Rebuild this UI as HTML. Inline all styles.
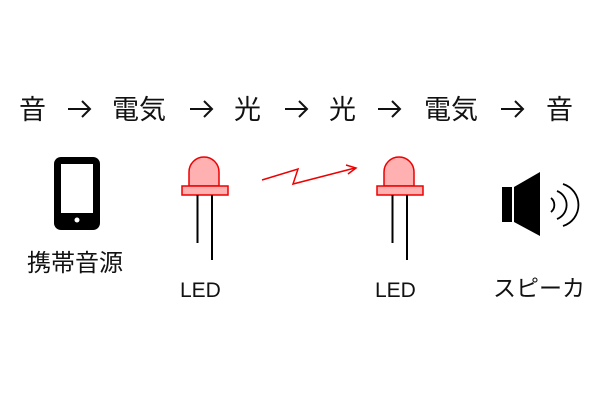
<!DOCTYPE html>
<html><head><meta charset="utf-8"><style>
body{margin:0;background:#fff;width:600px;height:400px;overflow:hidden}
</style></head><body>
<svg width="600" height="400" xmlns="http://www.w3.org/2000/svg" font-family="'Liberation Sans','Noto Sans CJK JP',sans-serif">
<g font-size="27" fill="#111">
<text x="19" y="119">音</text>
<text x="112" y="119">電気</text>
<text x="234" y="119">光</text>
<text x="329" y="119">光</text>
<text x="424" y="119">電気</text>
<text x="546" y="119">音</text>
</g>
<g fill="none" stroke="#111" stroke-width="2">
<path d="M68 109 H90 M82 101 L90 109 L82 117"/>
<path d="M190 109 H212 M204 101 L212 109 L204 117"/>
<path d="M285 109 H307 M299 101 L307 109 L299 117"/>
<path d="M378 109 H400 M392 101 L400 109 L392 117"/>
<path d="M501 109 H523 M515 101 L523 109 L515 117"/>
</g>
<!-- phone -->
<rect x="54" y="157" width="46" height="73" rx="7" fill="#000"/>
<rect x="61" y="164" width="32" height="49" fill="#fff"/>
<circle cx="77" cy="220" r="2.5" fill="#fff"/>
<text x="27" y="271" font-size="24" fill="#111">携帯音源</text>
<!-- LED1 -->
<g>
<path d="M189 186 V172 A15 15 0 0 1 219 172 V186 Z" fill="#ffb0b0" stroke="#e00" stroke-width="1.5"/>
<rect x="182" y="186" width="46" height="9" fill="#ffb0b0" stroke="#e00" stroke-width="1.5"/>
<line x1="197.5" y1="195" x2="197.5" y2="243" stroke="#000" stroke-width="2"/>
<line x1="212" y1="195" x2="212" y2="260" stroke="#000" stroke-width="2"/>
<text x="180" y="297" font-size="21" fill="#111">LED</text>
</g>
<g transform="translate(195,0)">
<path d="M189 186 V172 A15 15 0 0 1 219 172 V186 Z" fill="#ffb0b0" stroke="#e00" stroke-width="1.5"/>
<rect x="182" y="186" width="46" height="9" fill="#ffb0b0" stroke="#e00" stroke-width="1.5"/>
<line x1="197.5" y1="195" x2="197.5" y2="243" stroke="#000" stroke-width="2"/>
<line x1="212" y1="195" x2="212" y2="260" stroke="#000" stroke-width="2"/>
<text x="180" y="297" font-size="21" fill="#111">LED</text>
</g>
<!-- zigzag -->
<polyline points="262,180 298,169 293,184 355,168" fill="none" stroke="#e00" stroke-width="1.5"/>
<polyline points="346,165 356,168 348,174" fill="none" stroke="#e00" stroke-width="1.5"/>
<!-- speaker -->
<rect x="502" y="187" width="10" height="35" fill="#000"/>
<polygon points="514,187 540,172 540,236 514,222" fill="#000"/>
<g fill="none" stroke="#000" stroke-width="1.8">
<path d="M551 198 A9 9 0 0 1 551 212"/>
<path d="M557 191 A15 15 0 0 1 557 219"/>
<path d="M563 184 A22 22 0 0 1 563 226"/>
</g>
<text x="493" y="296" font-size="23" fill="#111">スピーカ</text>
</svg>
</body></html>
